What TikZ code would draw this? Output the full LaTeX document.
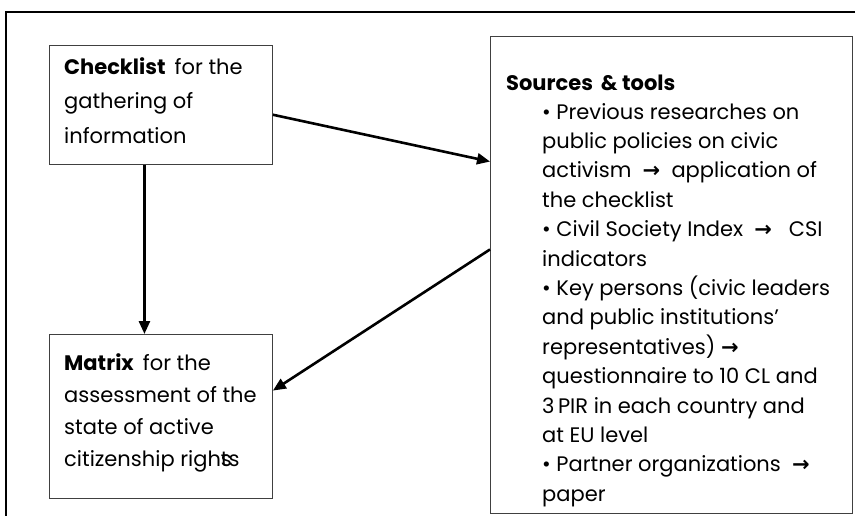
\documentclass[tikz,border=0pt]{standalone}
\usepackage{fontspec}
\setmainfont{Poppins}
\newfontfamily\symfont{DejaVu Sans}
\usetikzlibrary{arrows.meta, positioning}
\newcommand{\rarr}{{\symfont\bfseries\char"2192}}

\begin{document}
\begin{tikzpicture}[x=1pt, y=-1pt,
  box/.style    = {draw=black!75, line width=0.9pt, inner sep=0pt, anchor=north west},
  chktxt/.style = {anchor=north west, inner sep=0pt, align=left, font=\fontsize{21}{34.5}\selectfont},
  mattxt/.style = {anchor=north west, inner sep=0pt, align=left, font=\fontsize{21}{32.3}\selectfont},
  srctxt/.style = {anchor=north west, inner sep=0pt, align=left, font=\fontsize{21}{29.4}\selectfont},
  arr/.style    = {-{Triangle[length=13pt,width=11pt]}, line width=2.6pt},
  frame/.style  = {line width=1.3pt},
]
\useasboundingbox (0,0) rectangle (859,516);
\draw[frame] (855,12) -- (6,12) -- (6,516);
% boxes
\node[box, minimum width=223pt, minimum height=119pt] (chk) at (49,45) {};
\node[box, minimum width=223pt, minimum height=164pt] (mat) at (49,334) {};
\node[box, minimum width=362pt, minimum height=477pt] (src) at (490,36) {};
% texts
\node[chktxt] (chkt) at (64,57) {\textbf{Checklist}\, for the\\gathering of\\information};
\node[mattxt] (matt) at (64,353) {\textbf{Matrix}\, for the\\assessment of the\\state of active\\citizenship righ\rlap{s}ts};
\node[srctxt] (srchead) at (506,75) {\textbf{Sources\, \& tools}};
\node[srctxt] (srclist) at (542,103) {• Previous researches on\\
public policies on civic\\
activism \ \rarr\ \ application of\\
the checklist\\
• Civil Society Index \ \rarr\ \ \ CSI\\
indicators\\
• Key persons (civic leaders\\
and public institutions’\\
representatives) \rarr\\
questionnaire to 10 CL and\\
3\,PIR in each country and\\
at EU level\\
• Partner organizations \ \rarr\\
paper};
% connectors
\draw[arr] (chk.-5) -- (src.148.6);
\draw[arr] ([xshift=-16.5pt]chk.south) -- ([xshift=-16.5pt]mat.north);
\draw[arr] (src.172.9) -- (mat.13.1);
\end{tikzpicture}
\end{document}
